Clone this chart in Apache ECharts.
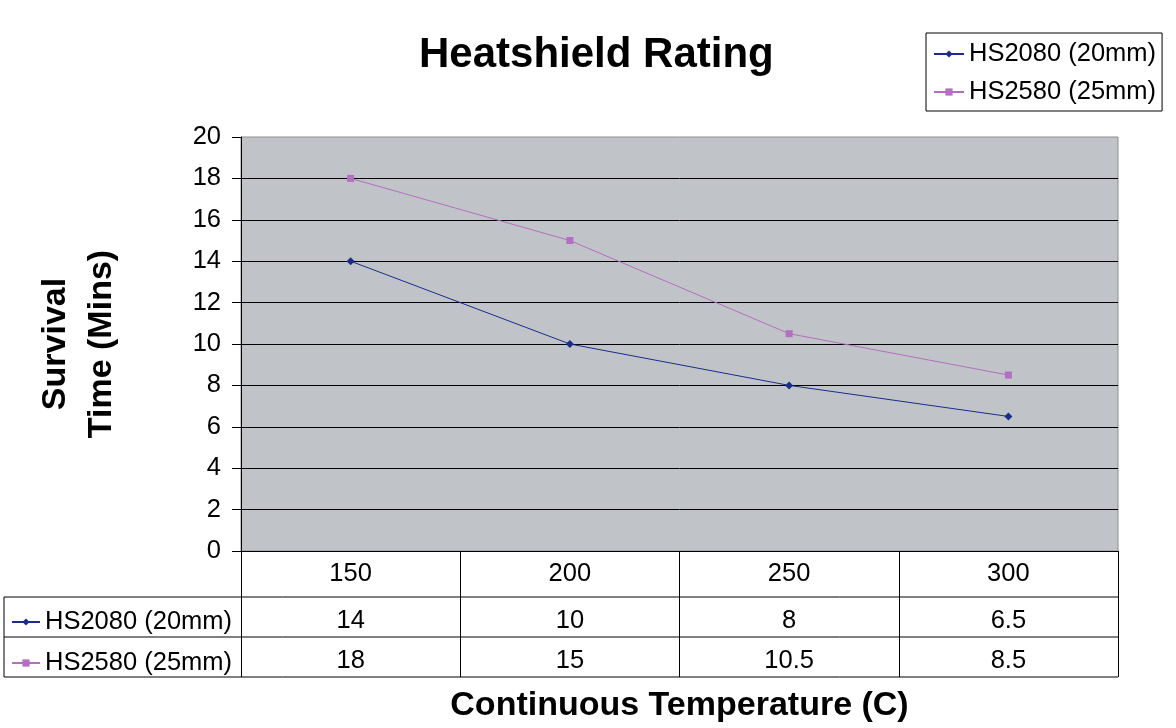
<!DOCTYPE html>
<html>
<head>
<meta charset="UTF-8">
<title>Heatshield Rating</title>
<script src="https://cdn.jsdelivr.net/npm/echarts@6/dist/echarts.min.js"></script>
<style>
  html, body { margin: 0; padding: 0; background: #fff; }
  #main { width: 1176px; height: 728px; }
</style>
</head>
<body>
<div id="main"></div>
<script type="text/javascript">
    // data
    var temps = ['150', '200', '250', '300'];
    var hs2080 = [14, 10, 8, 6.5];
    var hs2580 = [18, 15, 10.5, 8.5];
    var seriesNames = ['HS2080 (20mm)', 'HS2580 (25mm)'];
    var yTicks = [0, 2, 4, 6, 8, 10, 12, 14, 16, 18, 20];

    var font = 'Arial, "Liberation Sans", sans-serif';
    var blue = '#1b2c8c';
    var pink = '#b46ec2';

    var myChart = echarts.init(document.getElementById('main'));

    // table borders (the category column lines come from the x axis ticks)
    var tableLines = [597, 637, 677].map(function (y) {
        return {
            type: 'line',
            shape: { x1: 4, y1: y, x2: 1118, y2: y },
            style: { stroke: '#000', lineWidth: 1 }
        };
    });
    tableLines.push({
        type: 'line',
        shape: { x1: 4, y1: 597, x2: 4, y2: 677 },
        style: { stroke: '#000', lineWidth: 1 }
    });

    var option = {
        backgroundColor: '#fff',
        animation: false,
        title: {
            text: 'Heatshield Rating',
            left: 419,
            top: 33,
            padding: 0,
            textStyle: { fontFamily: font, fontSize: 42, fontWeight: 'bold', color: '#000', lineHeight: 44 }
        },
        legend: [{
            data: seriesNames,
            orient: 'vertical',
            left: 926,
            top: 33,
            padding: [8, 6, 6, 7],
            itemGap: 12,
            itemWidth: 30,
            itemHeight: 9,
            borderColor: '#000',
            borderWidth: 1,
            selectedMode: false,
            textStyle: { fontFamily: font, fontSize: 25.5, color: '#000', lineHeight: 25 }
        }, {
            data: seriesNames,
            orient: 'vertical',
            left: 4,
            top: 597,
            padding: [12, 7, 7, 7],
            itemGap: 15,
            itemWidth: 28,
            itemHeight: 9,
            selectedMode: false,
            textStyle: { fontFamily: font, fontSize: 25.5, color: '#000', lineHeight: 25 }
        }],
        grid: {
            left: 241,
            right: 58,
            top: 137,
            bottom: 177,
            outerBoundsMode: 'none',
            show: true,
            backgroundColor: '#c0c4c8',
            borderColor: '#8e8e8e',
            borderWidth: 1
        },
        xAxis: {
            type: 'category',
            data: temps,
            boundaryGap: true,
            name: 'Continuous Temperature (C)',
            nameLocation: 'middle',
            nameGap: 138,
            nameTextStyle: { fontFamily: font, fontSize: 34, fontWeight: 'bold', color: '#000' },
            axisLine: { lineStyle: { color: '#000', width: 1 } },
            axisTick: { show: true, interval: 0, length: 126, lineStyle: { color: '#000', width: 1 } },
            axisLabel: {
                interval: 0,
                margin: 0,
                formatter: function (value, index) {
                    return '{a|' + value + '}\n{b|' + hs2080[index] + '}\n{c|' + hs2580[index] + '}';
                },
                rich: {
                    a: { fontFamily: font, fontSize: 25.5, color: '#000', lineHeight: 45 },
                    b: { fontFamily: font, fontSize: 25.5, color: '#000', lineHeight: 50 },
                    c: { fontFamily: font, fontSize: 25.5, color: '#000', lineHeight: 30 }
                }
            }
        },
        yAxis: {
            type: 'value',
            min: yTicks[0],
            max: yTicks[yTicks.length - 1],
            interval: 2,
            name: 'Survival\nTime (Mins)',
            nameLocation: 'middle',
            nameRotate: 90,
            nameGap: 116,
            nameTextStyle: { fontFamily: font, fontSize: 34, fontWeight: 'bold', color: '#000', lineHeight: 46, align: 'center' },
            axisLine: { show: true, lineStyle: { color: '#000', width: 1 } },
            axisTick: { show: true, length: 9, lineStyle: { color: '#000', width: 1 } },
            axisLabel: { fontFamily: font, fontSize: 25.5, color: '#000', margin: 20 },
            splitLine: { show: true, showMaxLine: false, lineStyle: { color: '#000', width: 1 } }
        },
        graphic: tableLines,
        series: [{
            name: seriesNames[0],
            type: 'line',
            data: hs2080,
            symbol: 'diamond',
            symbolSize: 8,
            color: blue,
            lineStyle: { color: blue, width: 1 },
            itemStyle: { color: blue }
        }, {
            name: seriesNames[1],
            type: 'line',
            data: hs2580,
            symbol: 'rect',
            symbolSize: 7,
            color: pink,
            lineStyle: { color: pink, width: 1 },
            itemStyle: { color: pink }
        }]
    };

    myChart.setOption(option);
</script>
</body>
</html>
